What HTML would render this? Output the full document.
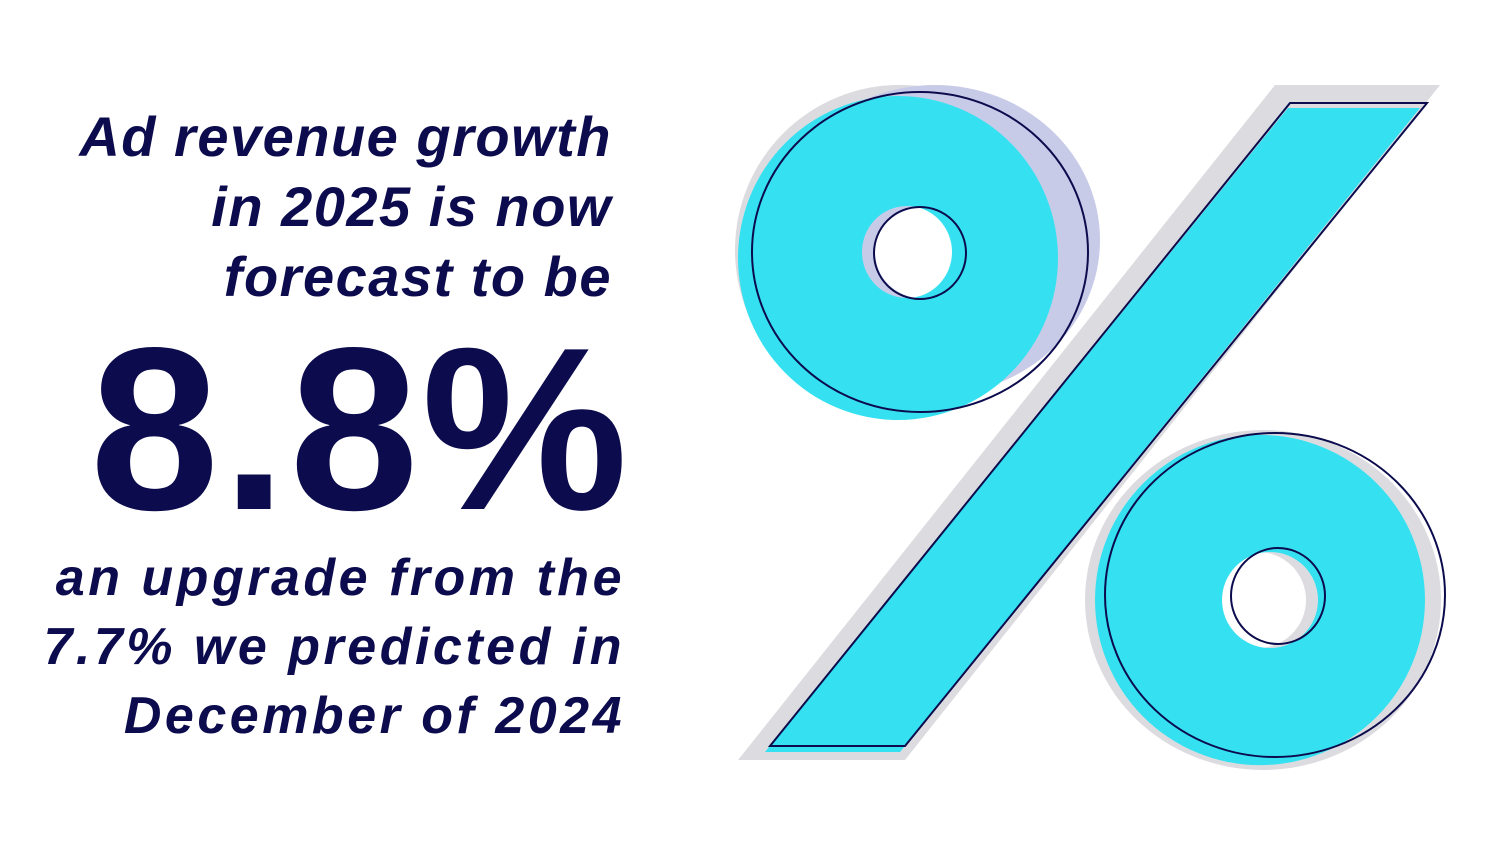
<!DOCTYPE html>
<html><head><meta charset="utf-8"><style>
html,body{margin:0;padding:0;background:#fff;}
body{width:1500px;height:844px;position:relative;overflow:hidden;font-family:"Liberation Sans",sans-serif;color:#0b0b4d;}
.t{position:absolute;right:888px;text-align:right;font-style:italic;font-weight:bold;white-space:nowrap;}
.a{font-size:56px;line-height:70px;top:102px;letter-spacing:1.5px;}
.big{position:absolute;left:90px;top:300px;font-size:232px;font-weight:bold;letter-spacing:3px;line-height:260px;}
.b{font-size:52px;line-height:69px;top:544px;right:875px;letter-spacing:3.5px;}
</style></head><body>
<div class="t a">Ad revenue growth<br>in 2025 is now<br>forecast to be</div>
<div class="big">8.8%</div>
<div class="t b">an upgrade from the<br>7.7% we predicted in<br>December of 2024</div>
<svg width="1500" height="844" style="position:absolute;left:0;top:0">
<g fill="#dcdce0">
<path fill-rule="evenodd" d="M735 250a165 165 0 1 0 330 0a165 165 0 1 0 -330 0zM862 252a48 46 0 1 0 96 0a48 46 0 1 0 -96 0z"/>
<polygon points="1275,85 1440,85 905,760 738,760"/>
<path fill-rule="evenodd" d="M1085 600a178 170 0 1 0 356 0a178 170 0 1 0 -356 0zM1210 600a48 48 0 1 0 96 0a48 48 0 1 0 -96 0z"/>
</g>
<path fill-rule="evenodd" fill="#c8cbe8" d="M770 240a165 155 0 1 0 330 0a165 155 0 1 0 -330 0zM875 252a46 46 0 1 0 92 0a46 46 0 1 0 -92 0z"/>
<g fill="#35e1f1">
<path fill-rule="evenodd" d="M738 258a160 162 0 1 0 320 0a160 162 0 1 0 -320 0zM862 252a45 46 0 1 0 90 0a45 46 0 1 0 -90 0z"/>
<polygon points="1288,108 1420,108 900,752 765,752"/>
<path fill-rule="evenodd" d="M1095 600a165 165 0 1 0 330 0a165 165 0 1 0 -330 0zM1222 600a48 48 0 1 0 96 0a48 48 0 1 0 -96 0z"/>
</g>
<g fill="none" stroke="#0b0b4d" stroke-width="2">
<ellipse cx="920" cy="252" rx="168" ry="160"/>
<ellipse cx="920" cy="253" rx="46" ry="46"/>
<polygon points="1290,103 1427,103 905,746 770,746"/>
<ellipse cx="1275" cy="595" rx="170" ry="162"/>
<ellipse cx="1278" cy="596" rx="47" ry="48"/>
</g>
</svg>
</body></html>
